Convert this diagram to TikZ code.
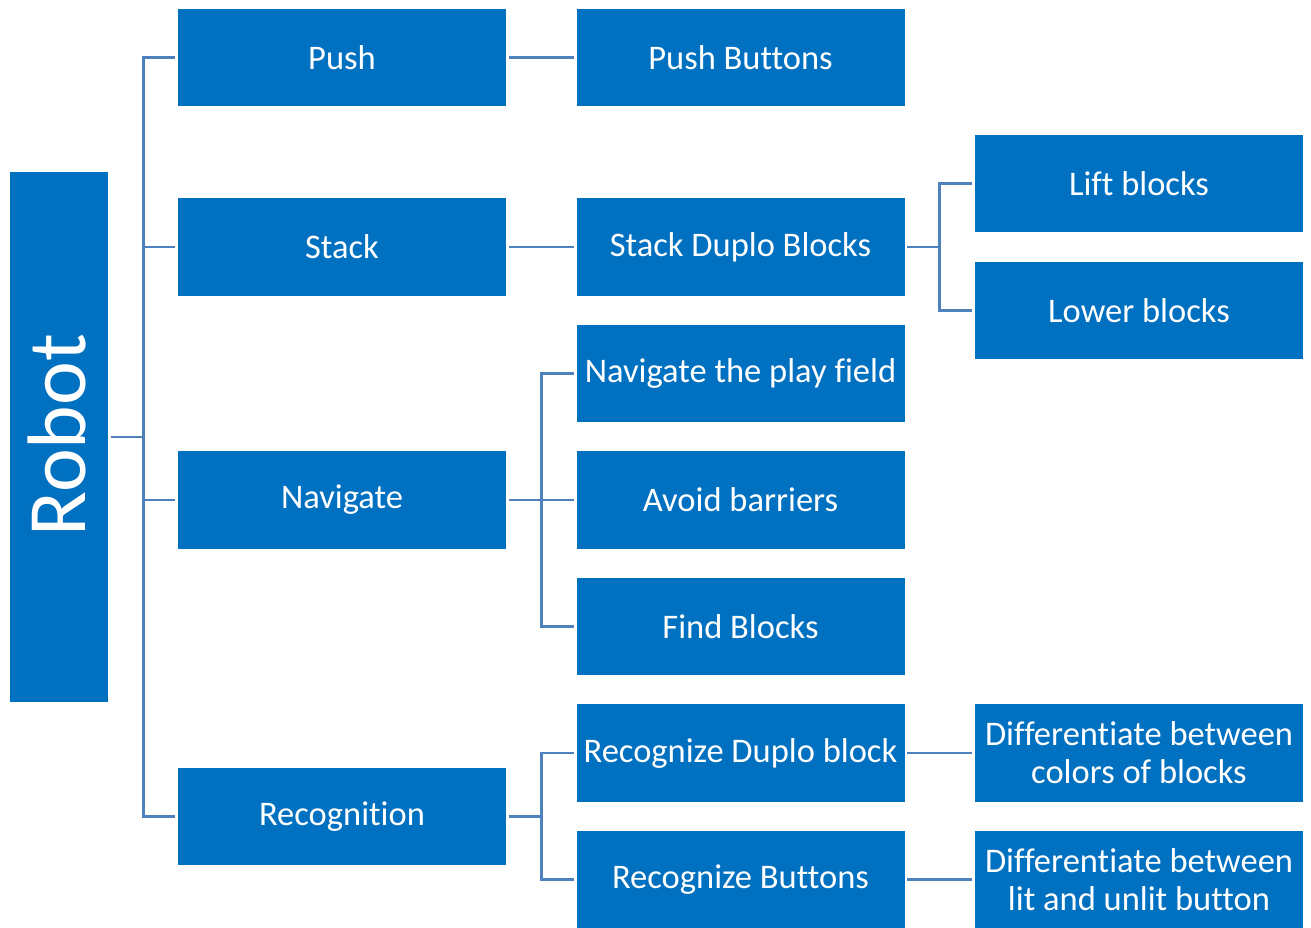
\documentclass[tikz,border=0pt]{standalone}
\usepackage{fontspec}
\setmainfont[Ligatures=NoCommon]{Carlito}
\definecolor{boxblue}{RGB}{0,112,192}
\definecolor{linkblue}{RGB}{79,129,189}
\tikzset{
  item/.style={rectangle, fill=boxblue, text=white, inner sep=0pt,
    minimum width=328pt, minimum height=97.5pt, align=center,
    font=\fontsize{34.5}{38}\selectfont},
  link/.style={draw=linkblue, line width=2.8pt, shorten <=2.5pt, shorten >=2.5pt},
}
\begin{document}
\begin{tikzpicture}[x=1pt, y=-1pt]
\useasboundingbox (0,0) rectangle (1311,927);

% root
\node[rectangle, fill=boxblue, inner sep=0pt, minimum width=98pt, minimum height=530pt] (robot) at (59,437) {};
\node[rotate=90, text=white, font=\fontsize{83}{96}\selectfont] (robotlabel) at (57,435) {Robot};

% first level
\node[item] (push)  at (342,57.5)  {Push};
\node[item] (stack) at (342,247)   {Stack};
\node[item] (nav)   at (342,500)   {Navigate};
\node[item] (recog) at (342,816.5) {Recognition};

% second level
\node[item] (pushbtn)  at (740.5,57.5) {Push Buttons};
\node[item] (stackdup) at (740.5,247)  {Stack Duplo Blocks};
\node[item] (navfield) at (740.5,373.5){Navigate the play field};
\node[item] (avoid)    at (740.5,500)  {Avoid barriers};
\node[item] (find)     at (740.5,626.5){Find Blocks};
\node[item] (recdup)   at (740.5,753)  {Recognize Duplo block};
\node[item] (recbtn)   at (740.5,879.5){Recognize Buttons};

% third level
\node[item] (lift)    at (1139,183.5) {Lift blocks};
\node[item] (lower)   at (1139,310.5) {Lower blocks};
\node[item] (diffcol) at (1139,753)   {Differentiate between\\colors of blocks};
\node[item] (difflit) at (1139,879.5) {Differentiate between\\lit and unlit button};

% root to first level
\foreach \t in {push,stack,nav,recog}
  \draw[link] (robot.east) -- ++(35,0) |- (\t.west);

% first to second level
\draw[link] (push) -- (pushbtn);
\draw[link] (stack) -- (stackdup);
\foreach \t in {navfield,avoid,find}
  \draw[link] (nav.east) -- ++(35,0) |- (\t.west);
\foreach \t in {recdup,recbtn}
  \draw[link] (recog.east) -- ++(35,0) |- (\t.west);

% second to third level
\foreach \t in {lift,lower}
  \draw[link] (stackdup.east) -- ++(35,0) |- (\t.west);
\draw[link] (recdup) -- (diffcol);
\draw[link] (recbtn) -- (difflit);
\end{tikzpicture}
\end{document}
